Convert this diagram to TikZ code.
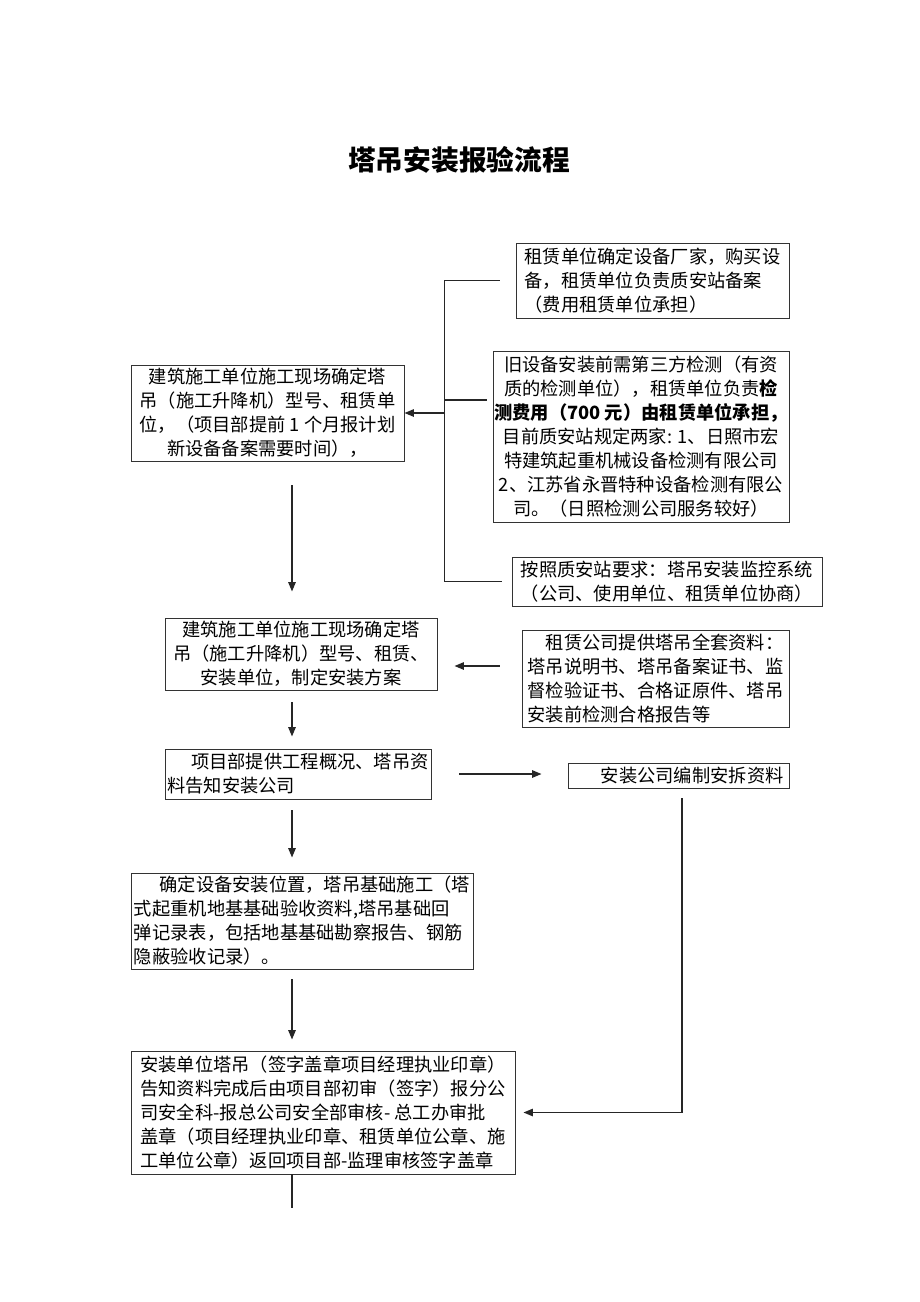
\documentclass[tikz,border=0pt]{standalone}
\usepackage{fontspec}
\setmainfont{Noto Sans CJK SC}
\usepackage{tikz}
\usetikzlibrary{calc, arrows.meta}

\begin{document}
\begin{tikzpicture}[x=0.75pt, y=-0.75pt,
	flowbox/.style={draw=black!80, line width=0.7pt, inner xsep=0pt, inner ysep=1pt,
		font=\fontsize{13.7pt}{18pt}\selectfont},
	heading/.style={font=\fontsize{20.8pt}{24pt}\selectfont\bfseries},
	link/.style={draw=black!85, line width=0.9pt},
	arr/.style={link, line width=1.1pt, -{Triangle[length=7pt,width=5.5pt]}}]
	% Page frame
	\useasboundingbox (0,0) rectangle (920,1302);
	
	% Title
	\node[heading] (title) at (459,160) {塔吊安装报验流程};
	
	% Boxes on the right of the first step
	\node[flowbox, align=left, minimum width=204.75pt, minimum height=56.25pt] (nA) at (652.5,280.5)
		{租赁单位确定设备厂家，购买设\\备，租赁单位负责质安站备案\\（费用租赁单位承担）};
	\node[flowbox, align=center, minimum width=222pt, minimum height=128.25pt] (nC) at (641,436.5)
		{旧设备安装前需第三方检测（有资\\质的检测单位），租赁单位负责\textbf{检}\\
		\textbf{测费用（700 元）由租赁单位承担，}\\目前质安站规定两家: 1、日照市宏\\
		特建筑起重机械设备检测有限公司\\2、江苏省永晋特种设备检测有限公\\司。（日照检测公司服务较好）};
	\node[flowbox, align=center, minimum width=232.5pt, minimum height=36.75pt] (nD) at (667,581.5)
		{按照质安站要求：塔吊安装监控系统\\（公司、使用单位、租赁单位协商）};
	
	% Main column
	\node[flowbox, align=center, minimum width=204.75pt, minimum height=72pt] (nB) at (267.5,413)
		{建筑施工单位施工现场确定塔\\吊（施工升降机）型号、租赁单\\位，（项目部提前 1 个月报计划\\新设备备案需要时间），};
	\node[flowbox, align=center, minimum width=204pt, minimum height=54pt] (nE) at (301,654)
		{建筑施工单位施工现场确定塔\\吊（施工升降机）型号、租赁、\\安装单位，制定安装方案};
	\node[flowbox, align=left, minimum width=200.25pt, minimum height=72.75pt] (nF) at (655.5,678.5)
		{\hspace*{1em}租赁公司提供塔吊全套资料：\\塔吊说明书、塔吊备案证书、监\\督检验证书、合格证原件、塔吊\\安装前检测合格报告等};
	\node[flowbox, align=left, minimum width=199.5pt, minimum height=37.5pt] (nG) at (298,774)
		{\hspace*{1.3em}项目部提供工程概况、塔吊资\\料告知安装公司};
	\node[flowbox, align=left, minimum width=165.75pt, minimum height=18.75pt] (nH) at (678.5,775.5)
		{\hspace*{1.5em}安装公司编制安拆资料};
	\node[flowbox, align=left, minimum width=256.5pt, minimum height=72pt] (nI) at (302,921)
		{\hspace*{1.4em}确定设备安装位置，塔吊基础施工（塔\\式起重机地基基础验收资料,塔吊基础回\\弹记录表，包括地基基础勘察报告、钢筋\\隐蔽验收记录）。};
	\node[flowbox, align=left, minimum width=288pt, minimum height=92.25pt] (nJ) at (323,1112.5)
		{安装单位塔吊（签字盖章项目经理执业印章）\\告知资料完成后由项目部初审（签字）报分公\\司安全科-报总公司安全部审核- 总工办审批\\盖章（项目经理执业印章、租赁单位公章、施\\工单位公章）返回项目部-监理审核签字盖章};
	
	% Bracket joining the three boxes on the right
	\coordinate (spine) at (445,413);
	\coordinate (ax) at (292,0);
	\draw[link] ($(nA.west)+(-16,0)$) -| ($(nD.west)+(-67,0)$) -- ($(nD.west)+(-10,0)$);
	\draw[link] ($(nC.west)+(-6,-36.5)$) -- ++(-42,0);
	\draw[arr] (spine) -- (nB.east);
	
	% Arrows down the main column
	\draw[arr] ($(ax |- nB.south)+(0,24)$) -- ($(ax |- nE.north)+(0,-26)$);
	\draw[arr] ($(ax |- nE.south)+(0,12)$) -- ($(ax |- nG.north)+(0,-12)$);
	\draw[arr] ($(ax |- nG.south)+(0,11)$) -- ($(ax |- nI.north)+(0,-15)$);
	\draw[arr] ($(ax |- nI.south)+(0,10)$) -- ($(ax |- nJ.north)+(0,-11)$);
	\draw[link, line width=1pt] (ax |- nJ.south) -- ++(0,34);
	
	% Side arrows
	\draw[arr] ($(nF.west)+(-22,-12.5)$) -- ($(nE.east)+(17,12)$);
	\draw[arr] ($(nG.east)+(28,0)$) -- ($(nH.west)+(-26,-1.5)$);
	\draw[arr] ($(nH.south)+(3.5,10)$) |- ($(nJ.east)+(8,0)$);
\end{tikzpicture}
\end{document}
